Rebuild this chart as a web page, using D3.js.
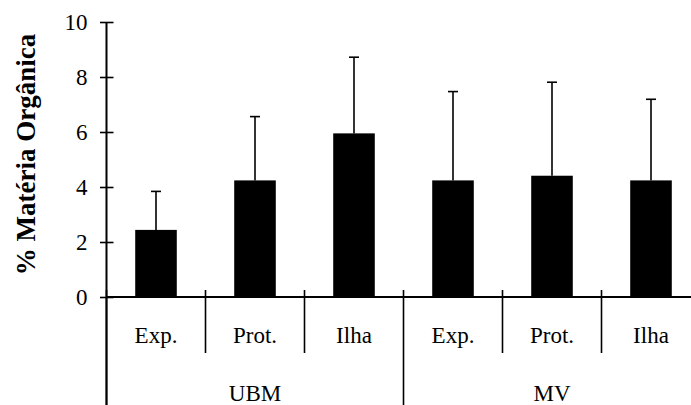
<!DOCTYPE html>
<html>
<head>
<meta charset="utf-8">
<script src="https://cdn.jsdelivr.net/npm/d3@7"></script>
<style>
  html, body { margin: 0; padding: 0; background: #fff; }
  svg { display: block; }
  svg text { font-family: "Liberation Serif", "Times New Roman", Tinos, serif !important; fill: #000; }
</style>
</head>
<body>
<div id="chart"></div>
<script>
const groups = ["UBM", "MV"];
const sites = ["Exp.", "Prot.", "Ilha"];
const categories = ["UBM|Exp.", "UBM|Prot.", "UBM|Ilha", "MV|Exp.", "MV|Prot.", "MV|Ilha"];
const values = [2.44, 4.24, 5.95, 4.24, 4.41, 4.24];
const errors = [1.40, 2.32, 2.77, 3.23, 3.40, 2.95];
const yTicks = [0, 2, 4, 6, 8, 10];
const yTitle = "% Matéria Orgânica";

const W = 691, H = 405;
const svg = d3.select("#chart").append("svg").attr("width", W).attr("height", H);

const axisX = 106.5, x0 = 106.5, x1 = 700.5;
const yTop = 22, yBase = 297;

const x = d3.scaleBand().domain(categories).range([x0, x1]).paddingInner(0).paddingOuter(0);
const y = d3.scaleLinear().domain([0, 10]).range([yBase, yTop]);
const barW = x.bandwidth() * 0.42;

// bars
svg.selectAll("rect.bar").data(categories).enter().append("rect")
  .attr("x", d => x(d) + x.bandwidth() / 2 - barW / 2)
  .attr("y", (d, i) => y(values[i]))
  .attr("width", barW)
  .attr("height", (d, i) => y(0) - y(values[i]))
  .attr("fill", "#000");

// error bars
const eb = svg.append("g").attr("stroke", "#000").attr("stroke-width", 1.6);
categories.forEach((c, i) => {
  const cx = x(c) + x.bandwidth() / 2;
  eb.append("line").attr("x1", cx).attr("x2", cx).attr("y1", y(values[i])).attr("y2", y(values[i] + errors[i]));
  eb.append("line").attr("x1", cx - 5).attr("x2", cx + 5).attr("y1", y(values[i] + errors[i])).attr("y2", y(values[i] + errors[i]));
});

// y axis
const yAxis = d3.axisLeft(y).tickValues(yTicks).tickSize(0).tickPadding(19).tickFormat(d3.format("d"));
const gy = svg.append("g").attr("transform", `translate(${axisX},0)`).call(yAxis)
  .attr("font-family", null).attr("font-size", null);
gy.select(".domain").remove();
gy.selectAll("text").style("font-size", "23px");
gy.selectAll(".tick").append("line").attr("x1", -6.5).attr("x2", 7).attr("stroke", "#000").attr("stroke-width", 1.6);
svg.append("line").attr("x1", axisX).attr("x2", axisX).attr("y1", yTop).attr("y2", H)
  .attr("stroke", "#000").attr("stroke-width", 2);

// x axis baseline
svg.append("line").attr("x1", x0).attr("x2", x1).attr("y1", yBase).attr("y2", yBase)
  .attr("stroke", "#000").attr("stroke-width", 2);

// category boundary ticks and separators
const bounds = categories.map(c => x(c)).concat([x1]);
bounds.forEach((bx, i) => {
  const isGroup = i % 3 === 0;
  svg.append("line").attr("x1", bx).attr("x2", bx)
    .attr("y1", 290).attr("y2", isGroup ? H : 353)
    .attr("stroke", "#000").attr("stroke-width", 1.6);
});

// category labels
svg.selectAll("text.cat").data(categories).enter().append("text")
  .attr("class", "cat")
  .attr("x", d => x(d) + x.bandwidth() / 2)
  .attr("y", 343)
  .attr("text-anchor", "middle")
  .style("font-size", "23px")
  .text(d => d.split("|")[1]);

// group labels
groups.forEach((g, gi) => {
  const a = x(categories[gi * 3]);
  const b = gi * 3 + 3 < categories.length ? x(categories[gi * 3 + 3]) : x1;
  svg.append("text")
    .attr("x", (a + b) / 2).attr("y", 401)
    .attr("text-anchor", "middle")
    .style("font-size", "23px")
    .text(g);
});

// y title
svg.append("text")
  .attr("transform", `translate(35,${(yTop + yBase) / 2 - 5}) rotate(-90)`)
  .attr("text-anchor", "middle")
  .style("font-size", "27px")
  .style("font-weight", "bold")
  .text(yTitle);
</script>
</body>
</html>
